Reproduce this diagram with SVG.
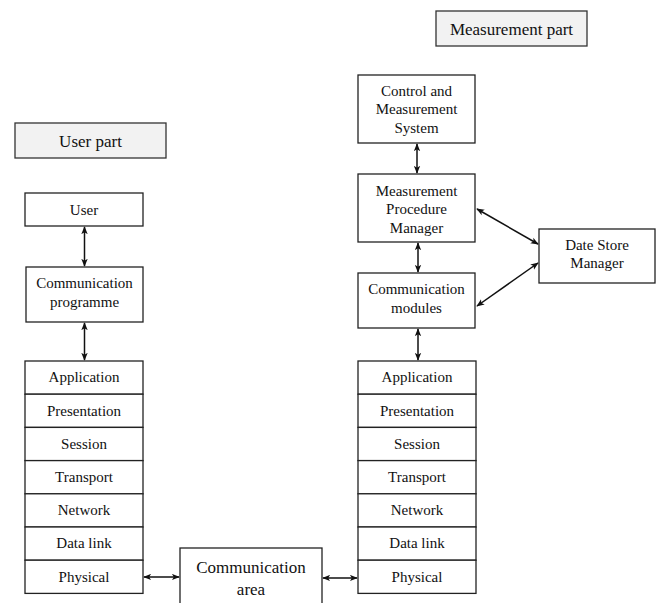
<svg xmlns="http://www.w3.org/2000/svg" width="660" height="603" viewBox="0 0 660 603">
<defs>
<marker id="ah" viewBox="0 0 10 8" refX="9" refY="4" markerWidth="8" markerHeight="7" markerUnits="userSpaceOnUse" orient="auto-start-reverse">
<path d="M0,0 L10,4 L0,8 L2.5,4 z" fill="#111"/>
</marker>
</defs>
<rect width="660" height="603" fill="#fff"/>

<g id="user-part"><rect fill="#f2f2f2" stroke="#333" stroke-width="1.3" x="15" y="123" width="151" height="35"/><text font-family="Liberation Serif" font-size="17" text-anchor="middle" fill="#111" x="90.5" y="147">User part</text></g>
<g id="measurement-part"><rect fill="#f2f2f2" stroke="#333" stroke-width="1.3" x="436" y="11" width="151" height="35"/><text font-family="Liberation Serif" font-size="17" text-anchor="middle" fill="#111" x="511.5" y="35">Measurement part</text></g>

<g id="user"><rect fill="#fff" stroke="#222" stroke-width="1.3" x="25" y="193" width="118" height="33"/><text font-family="Liberation Serif" font-size="15" text-anchor="middle" fill="#111" x="84" y="215">User</text></g>
<g id="comm-programme"><rect fill="#fff" stroke="#222" stroke-width="1.3" x="26" y="267" width="117" height="55"/><text font-family="Liberation Serif" font-size="15" text-anchor="middle" fill="#111" x="84.5" y="288">Communication</text><text font-family="Liberation Serif" font-size="15" text-anchor="middle" fill="#111" x="84.5" y="307">programme</text></g>

<g id="left-stack">
<rect fill="#fff" stroke="#222" stroke-width="1.3" x="25" y="361" width="118" height="33.2"/><text font-family="Liberation Serif" font-size="15" text-anchor="middle" fill="#111" x="84" y="382">Application</text>
<rect fill="#fff" stroke="#222" stroke-width="1.3" x="25" y="394.2" width="118" height="33.2"/><text font-family="Liberation Serif" font-size="15" text-anchor="middle" fill="#111" x="84" y="415.5">Presentation</text>
<rect fill="#fff" stroke="#222" stroke-width="1.3" x="25" y="427.4" width="118" height="33.2"/><text font-family="Liberation Serif" font-size="15" text-anchor="middle" fill="#111" x="84" y="448.5">Session</text>
<rect fill="#fff" stroke="#222" stroke-width="1.3" x="25" y="460.6" width="118" height="33.2"/><text font-family="Liberation Serif" font-size="15" text-anchor="middle" fill="#111" x="84" y="481.5">Transport</text>
<rect fill="#fff" stroke="#222" stroke-width="1.3" x="25" y="493.8" width="118" height="33.2"/><text font-family="Liberation Serif" font-size="15" text-anchor="middle" fill="#111" x="84" y="515">Network</text>
<rect fill="#fff" stroke="#222" stroke-width="1.3" x="25" y="527" width="118" height="33.2"/><text font-family="Liberation Serif" font-size="15" text-anchor="middle" fill="#111" x="84" y="548">Data link</text>
<rect fill="#fff" stroke="#222" stroke-width="1.3" x="25" y="560.2" width="118" height="33.2"/><text font-family="Liberation Serif" font-size="15" text-anchor="middle" fill="#111" x="84" y="581.5">Physical</text>
</g>

<g id="comm-area"><rect fill="#fff" stroke="#222" stroke-width="1.3" x="180" y="548" width="142" height="70"/><text font-family="Liberation Serif" font-size="17" text-anchor="middle" fill="#111" x="251" y="573">Communication</text><text font-family="Liberation Serif" font-size="17" text-anchor="middle" fill="#111" x="251" y="595">area</text></g>

<g id="control-measurement"><rect fill="#fff" stroke="#222" stroke-width="1.3" x="358" y="75" width="117" height="68"/><text font-family="Liberation Serif" font-size="15" text-anchor="middle" fill="#111" x="416.5" y="96">Control and</text><text font-family="Liberation Serif" font-size="15" text-anchor="middle" fill="#111" x="416.5" y="114">Measurement</text><text font-family="Liberation Serif" font-size="15" text-anchor="middle" fill="#111" x="416.5" y="133">System</text></g>
<g id="mpm"><rect fill="#fff" stroke="#222" stroke-width="1.3" x="358" y="174" width="117" height="68"/><text font-family="Liberation Serif" font-size="15" text-anchor="middle" fill="#111" x="416.5" y="196">Measurement</text><text font-family="Liberation Serif" font-size="15" text-anchor="middle" fill="#111" x="416.5" y="214">Procedure</text><text font-family="Liberation Serif" font-size="15" text-anchor="middle" fill="#111" x="416.5" y="233">Manager</text></g>
<g id="comm-modules"><rect fill="#fff" stroke="#222" stroke-width="1.3" x="358" y="273" width="117" height="55"/><text font-family="Liberation Serif" font-size="15" text-anchor="middle" fill="#111" x="416.5" y="294">Communication</text><text font-family="Liberation Serif" font-size="15" text-anchor="middle" fill="#111" x="416.5" y="313">modules</text></g>
<g id="date-store"><rect fill="#fff" stroke="#222" stroke-width="1.3" x="539" y="229" width="116" height="54"/><text font-family="Liberation Serif" font-size="15" text-anchor="middle" fill="#111" x="597" y="250">Date Store</text><text font-family="Liberation Serif" font-size="15" text-anchor="middle" fill="#111" x="597" y="268">Manager</text></g>

<g id="right-stack">
<rect fill="#fff" stroke="#222" stroke-width="1.3" x="358" y="361" width="118" height="33.2"/><text font-family="Liberation Serif" font-size="15" text-anchor="middle" fill="#111" x="417" y="382">Application</text>
<rect fill="#fff" stroke="#222" stroke-width="1.3" x="358" y="394.2" width="118" height="33.2"/><text font-family="Liberation Serif" font-size="15" text-anchor="middle" fill="#111" x="417" y="415.5">Presentation</text>
<rect fill="#fff" stroke="#222" stroke-width="1.3" x="358" y="427.4" width="118" height="33.2"/><text font-family="Liberation Serif" font-size="15" text-anchor="middle" fill="#111" x="417" y="448.5">Session</text>
<rect fill="#fff" stroke="#222" stroke-width="1.3" x="358" y="460.6" width="118" height="33.2"/><text font-family="Liberation Serif" font-size="15" text-anchor="middle" fill="#111" x="417" y="481.5">Transport</text>
<rect fill="#fff" stroke="#222" stroke-width="1.3" x="358" y="493.8" width="118" height="33.2"/><text font-family="Liberation Serif" font-size="15" text-anchor="middle" fill="#111" x="417" y="515">Network</text>
<rect fill="#fff" stroke="#222" stroke-width="1.3" x="358" y="527" width="118" height="33.2"/><text font-family="Liberation Serif" font-size="15" text-anchor="middle" fill="#111" x="417" y="548">Data link</text>
<rect fill="#fff" stroke="#222" stroke-width="1.3" x="358" y="560.2" width="118" height="33.2"/><text font-family="Liberation Serif" font-size="15" text-anchor="middle" fill="#111" x="417" y="581.5">Physical</text>
</g>

<g id="connectors" stroke="#111" stroke-width="1.5" fill="none" marker-start="url(#ah)" marker-end="url(#ah)">
<line x1="84.5" y1="227" x2="84.5" y2="266"/>
<line x1="84.5" y1="323" x2="84.5" y2="360"/>
<line x1="144" y1="577" x2="179" y2="577"/>
<line x1="323" y1="578" x2="357" y2="578"/>
<line x1="417" y1="144" x2="417" y2="173"/>
<line x1="418" y1="243" x2="418" y2="272"/>
<line x1="418" y1="329" x2="418" y2="360"/>
<line x1="477" y1="209" x2="538" y2="244"/>
<line x1="477" y1="306" x2="538" y2="263"/>
</g>
</svg>
